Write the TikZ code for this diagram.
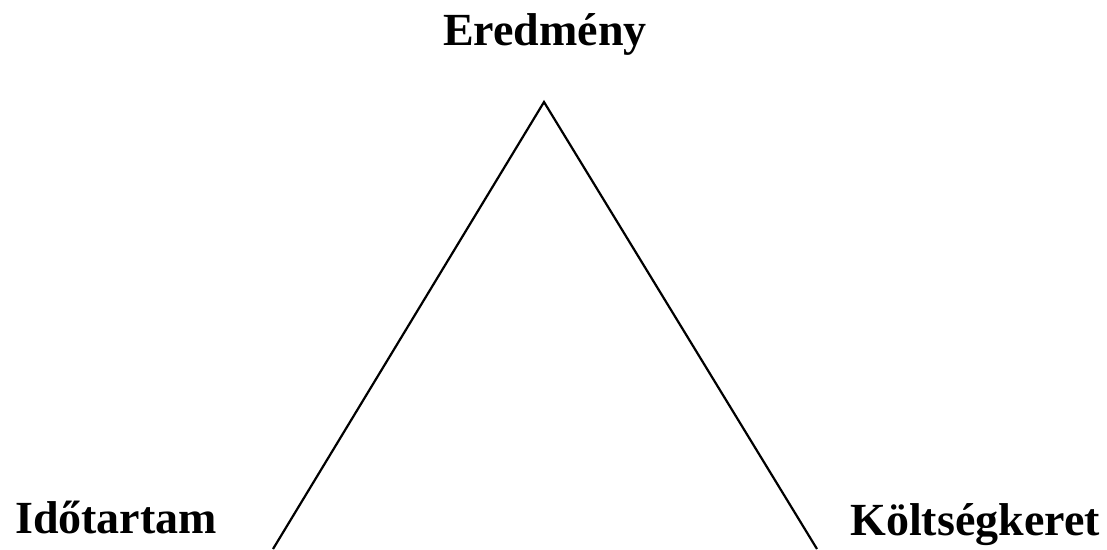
\documentclass[tikz,border=0pt]{standalone}
\usepackage{fontspec}
\setmainfont{Liberation Serif}
\usepackage{tikz}

\begin{document}
\begin{tikzpicture}[x=1pt, y=-1pt, font=\fontsize{46}{55}\selectfont\bfseries,
		corner/.style={inner sep=0pt, anchor=base}]
		\useasboundingbox (0,0) rectangle (1107,549);
		\node[corner] (eredmeny) at (545,45) {Eredmény};
		\node[corner, anchor=base west] (idotartam) at (15,533) {Időtartam};
		\node[corner, anchor=base west] (koltseg) at (850,535) {Költségkeret};
		\coordinate (csucs) at (544,102);
		\coordinate (bal) at (273,549);
		\coordinate (jobb) at (817,549);
		\draw[line width=2.2pt, line join=miter] (bal) -- (csucs) -- (jobb);
	\end{tikzpicture}
\end{document}
